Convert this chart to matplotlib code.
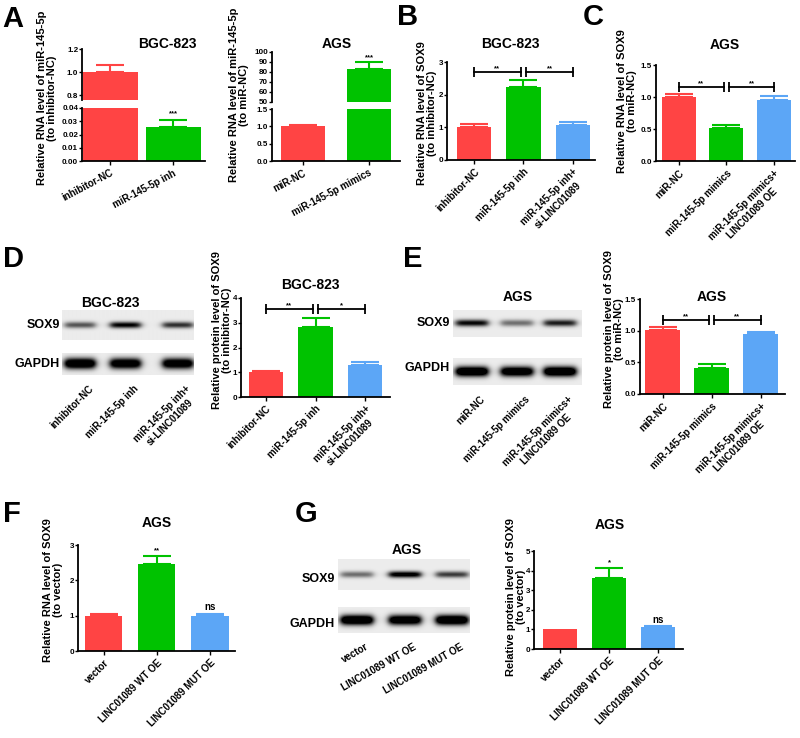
import numpy as np
import matplotlib.pyplot as plt

plt.rcParams['font.family'] = ['Liberation Sans', 'DejaVu Sans']
plt.rcParams['font.weight'] = 'bold'

W, H = 800, 738
RED = '#FF4444'
GREEN = '#00C200'
BLUE = '#5CA6F6'
COLS = [RED, GREEN, BLUE]

# ---- data ----
a1_groups = ['inhibitor-NC', 'miR-145-5p inh']
a1_mean = [1.0, 0.026]
a1_err = [0.065, 0.005]

a2_groups = ['miR-NC', 'miR-145-5p mimics']
a2_mean = [1.0, 83.0]
a2_err = [0.05, 7.0]

b_groups = ['inhibitor-NC', 'miR-145-5p inh', 'miR-145-5p inh+\nsi-LINC01089']
b_mean = [1.0, 2.22, 1.08]
b_err = [0.1, 0.23, 0.09]

c_groups = ['miR-NC', 'miR-145-5p mimics', 'miR-145-5p mimics+\nLINC01089 OE']
c_mean = [1.0, 0.51, 0.96]
c_err = [0.04, 0.05, 0.06]

d_groups = ['inhibitor-NC', 'miR-145-5p inh', 'miR-145-5p inh+\nsi-LINC01089']
d_mean = [1.0, 2.82, 1.3]
d_err = [0.07, 0.36, 0.12]
d_sox9 = [0.6, 0.95, 0.75]
d_gapdh = [1.4, 1.3, 1.3]

e_groups = ['miR-NC', 'miR-145-5p mimics', 'miR-145-5p mimics+\nLINC01089 OE']
e_mean = [1.01, 0.41, 0.94]
e_err = [0.05, 0.07, 0.04]
e_sox9 = [0.95, 0.5, 0.85]
e_gapdh = [1.4, 1.3, 1.4]

f_groups = ['vector', 'LINC01089 WT OE', 'LINC01089 MUT OE']
f_mean = [1.0, 2.45, 1.0]
f_err = [0.05, 0.23, 0.04]
f_sig = ['', '**', 'ns']

g_groups = ['vector', 'LINC01089 WT OE', 'LINC01089 MUT OE']
g_mean = [1.02, 3.6, 1.1]
g_err = [0.0, 0.52, 0.05]
g_sig = ['', '*', 'ns']
g_sox9 = [0.5, 1.05, 0.7]
g_gapdh = [1.4, 1.3, 1.4]

fig = plt.figure(figsize=(8, 7.38), dpi=100)


def px_axes(l, t, r, b):
    return fig.add_axes([l / W, 1 - b / H, (r - l) / W, (b - t) / H])


def ftext(x, y, s, **kw):
    fig.text(x / W, 1 - y / H, s, **kw)


def style(ax, bottom=True):
    ax.spines['top'].set_visible(False)
    ax.spines['right'].set_visible(False)
    ax.spines['left'].set_linewidth(1.3)
    ax.spines['bottom'].set_linewidth(1.3)
    if not bottom:
        ax.spines['bottom'].set_visible(False)
        ax.tick_params(axis='x', bottom=False, labelbottom=False)
    ax.tick_params(labelsize=5.8, width=1, length=2, pad=0.8)


def bars(ax, means, errs, width, capsize=10):
    x = np.arange(len(means))
    ax.bar(x, means, width, color=COLS[:len(means)], zorder=2)
    for xi, m, e, c in zip(x, means, errs, COLS):
        if e > 0:
            ax.errorbar(xi, m, yerr=[[0], [e]], fmt='none', ecolor=c,
                        capsize=capsize, elinewidth=1.5, capthick=1.5, zorder=1)


def xlabels(ax, groups, rot=45, size=7):
    ax.set_xticks(np.arange(len(groups)))
    ax.set_xticklabels(groups, rotation=rot, ha='right', rotation_mode='anchor',
                       fontsize=size, multialignment='center')
    ax.tick_params(axis='x', length=3, pad=2)


def bracket(ax, x0, x1, y, label):
    ax.plot([x0, x1], [y, y], color='k', lw=1.3, marker='|', ms=7, mew=1.3,
            clip_on=False, zorder=3)
    ax.text((x0 + x1) / 2, y, label, ha='center', va='bottom', fontsize=5.5)


def ylab(x, y, s):
    ftext(x, y, s, rotation=90, ha='center', va='center', fontsize=8,
          multialignment='center', linespacing=1.05)


def blot(l, t, r, b, lanes, vals, hw, sig):
    ax = px_axes(l, t, r, b)
    w, h = r - l, b - t
    xx, yy = np.meshgrid(np.arange(w) + 0.5, np.arange(h) + 0.5)
    img = np.full((h, w), 0.075)
    for c, v in zip(lanes, vals):
        horiz = 1 / (1 + np.exp((np.abs(xx - (c - l)) - hw) / 2.0))
        vert = np.exp(-((yy - h / 2) / sig) ** 2)
        img = img + v * horiz * vert
    ax.imshow(np.clip(img, 0, 1), cmap='gray_r', vmin=0, vmax=1,
              extent=[0, w, h, 0], aspect='auto', interpolation='bilinear')
    ax.axis('off')


# ---- panel letters ----
for s, x, y in [('A', 2, 27), ('B', 397, 25), ('C', 583, 25), ('D', 3, 267),
                ('E', 403, 267), ('F', 3, 522), ('G', 295, 522)]:
    ftext(x, y, s, fontsize=21, fontweight='bold', ha='left', va='baseline')

# ---- A: BGC-823 broken axis ----
xl = (-0.45, 1.5)
axu = px_axes(82, 49, 205, 100)
axl = px_axes(82, 108, 205, 161)
for ax in (axu, axl):
    bars(ax, a1_mean, a1_err, 0.87)
    ax.set_xlim(*xl)
axu.set_ylim(0.757, 1.2)
axu.set_yticks([0.8, 1.0, 1.2])
axu.set_yticklabels(['0.8', '1.0', '1.2'])
axl.set_ylim(0, 0.04)
axl.set_yticks([0, 0.01, 0.02, 0.03, 0.04])
axl.set_yticklabels(['0.00', '0.01', '0.02', '0.03', '0.04'])
style(axu, bottom=False)
style(axl)
xlabels(axl, a1_groups, rot=28)
axl.text(1, a1_mean[1] + a1_err[1] + 0.002, '***', ha='center', va='bottom', fontsize=5.5)
ftext(167, 44, 'BGC-823', fontsize=10, ha='center', va='center')
ylab(47, 98, 'Relative RNA level of miR-145-5p\n(to inhibitor-NC)')

# ---- A: AGS broken axis ----
xl = (-0.47, 1.47)
axu = px_axes(272, 52, 400, 102)
axl = px_axes(272, 109, 400, 161)
for ax in (axu, axl):
    bars(ax, a2_mean, a2_err, 0.67)
    ax.set_xlim(*xl)
axu.set_ylim(50, 100)
axu.set_yticks(np.arange(50, 101, 10))
axl.set_ylim(0, 1.5)
axl.set_yticks([0, 0.5, 1.0, 1.5])
axl.set_yticklabels(['0.0', '0.5', '1.0', '1.5'])
style(axu, bottom=False)
style(axl)
xlabels(axl, a2_groups, rot=28)
axu.text(1, a2_mean[1] + a2_err[1] + 1, '***', ha='center', va='bottom', fontsize=5.5)
ftext(337, 44, 'AGS', fontsize=10, ha='center', va='center')
ylab(239, 95, 'Relative RNA level of miR-145-5p\n(to miR-NC)')

# ---- B ----
ax = px_axes(447, 62, 595, 160)
bars(ax, b_mean, b_err, 0.7)
ax.set_xlim(-0.55, 2.45)
ax.set_ylim(0, 3)
ax.set_yticks([0, 1, 2, 3])
style(ax)
xlabels(ax, b_groups)
bracket(ax, 0, 0.94, 2.7, '**')
bracket(ax, 1.06, 2, 2.7, '**')
ftext(510, 44, 'BGC-823', fontsize=10, ha='center', va='center')
ylab(427, 113, 'Relative RNA level of SOX9\n(to inhibitor-NC)')

# ---- C ----
ax = px_axes(656, 65, 795, 161)
bars(ax, c_mean, c_err, 0.72)
ax.set_xlim(-0.49, 2.45)
ax.set_ylim(0, 1.5)
ax.set_yticks([0, 0.5, 1.0, 1.5])
ax.set_yticklabels(['0.0', '0.5', '1.0', '1.5'])
style(ax)
xlabels(ax, c_groups)
bracket(ax, 0, 0.94, 1.15, '**')
bracket(ax, 1.06, 2, 1.15, '**')
ftext(725, 45, 'AGS', fontsize=10, ha='center', va='center')
ylab(627, 101, 'Relative RNA level of SOX9\n(to miR-NC)')

# ---- D blot ----
lanes = [80, 125, 177]
blot(62, 310, 193, 340, lanes, d_sox9, 15, 3.2)
blot(62, 353, 193, 375, lanes, d_gapdh, 15, 5.0)
ftext(60, 325, 'SOX9', fontsize=9, ha='right', va='center')
ftext(60, 364, 'GAPDH', fontsize=9, ha='right', va='center')
ftext(110, 303, 'BGC-823', fontsize=10, ha='center', va='center')
for c, g in zip(lanes, d_groups):
    ftext(c + 8, 384, g, fontsize=7, rotation=45, ha='right', va='top',
          rotation_mode='anchor', multialignment='center')

# ---- D chart ----
ax = px_axes(241, 298, 390, 397)
bars(ax, d_mean, d_err, 0.69)
ax.set_xlim(-0.5, 2.5)
ax.set_ylim(0, 4)
ax.set_yticks([0, 1, 2, 3, 4])
style(ax)
xlabels(ax, d_groups)
bracket(ax, 0, 0.94, 3.55, '**')
bracket(ax, 1.06, 2, 3.55, '*')
ftext(310, 285, 'BGC-823', fontsize=10, ha='center', va='center')
ylab(222, 330, 'Relative protein level of SOX9\n(to inhibitor-NC)')

# ---- E blot ----
lanes = [472, 517, 560]
blot(453, 310, 582, 337, lanes, e_sox9, 16, 3.2)
blot(453, 358, 582, 385, lanes, e_gapdh, 16, 5.0)
ftext(450, 323, 'SOX9', fontsize=9, ha='right', va='center')
ftext(450, 368, 'GAPDH', fontsize=9, ha='right', va='center')
ftext(518, 297, 'AGS', fontsize=10, ha='center', va='center')
for c, g in zip(lanes, e_groups):
    ftext(c + 8, 394, g, fontsize=7, rotation=45, ha='right', va='top',
          rotation_mode='anchor', multialignment='center')

# ---- E chart ----
ax = px_axes(640, 299, 785, 394)
bars(ax, e_mean, e_err, 0.7)
ax.set_xlim(-0.46, 2.5)
ax.set_ylim(0, 1.5)
ax.set_yticks([0, 0.5, 1.0, 1.5])
ax.set_yticklabels(['0.0', '0.5', '1.0', '1.5'])
style(ax)
xlabels(ax, e_groups)
bracket(ax, 0, 0.94, 1.17, '**')
bracket(ax, 1.06, 2, 1.17, '**')
ftext(712, 297, 'AGS', fontsize=10, ha='center', va='center')
ylab(614, 329, 'Relative protein level of SOX9\n(to miR-NC)')

# ---- F ----
ax = px_axes(78, 545, 235, 651)
bars(ax, f_mean, f_err, 0.7)
ax.set_xlim(-0.48, 2.47)
ax.set_ylim(0, 3)
ax.set_yticks([0, 1, 2, 3])
style(ax)
xlabels(ax, f_groups)
for i, s in enumerate(f_sig):
    if s:
        ax.text(i, f_mean[i] + f_err[i] + 0.05, s, ha='center', va='bottom',
                fontsize=5.5 if s.startswith('*') else 7)
ftext(157, 523, 'AGS', fontsize=10, ha='center', va='center')
ylab(53, 590, 'Relative RNA level of SOX9\n(to vector)')

# ---- G blot ----
lanes = [357, 405, 452]
blot(338, 559, 470, 590, lanes, g_sox9, 16, 3.2)
blot(338, 607, 470, 633, lanes, g_gapdh, 16, 5.0)
ftext(335, 579, 'SOX9', fontsize=9, ha='right', va='center')
ftext(335, 624, 'GAPDH', fontsize=9, ha='right', va='center')
ftext(407, 550, 'AGS', fontsize=10, ha='center', va='center')
for c, g in zip(lanes, g_groups):
    ftext(c + 8, 642, g, fontsize=7, rotation=30, ha='right', va='top',
          rotation_mode='anchor')

# ---- G chart ----
ax = px_axes(534, 551, 683, 649)
bars(ax, g_mean, g_err, 0.69)
ax.set_xlim(-0.53, 2.51)
ax.set_ylim(0, 5)
ax.set_yticks([0, 1, 2, 3, 4, 5])
style(ax)
xlabels(ax, g_groups)
for i, s in enumerate(g_sig):
    if s:
        ax.text(i, g_mean[i] + g_err[i] + 0.08, s, ha='center', va='bottom',
                fontsize=5.5 if s.startswith('*') else 7)
ftext(610, 525, 'AGS', fontsize=10, ha='center', va='center')
ylab(516, 597, 'Relative protein level of SOX9\n(to vector)')

fig.savefig('out.png', dpi=100)
